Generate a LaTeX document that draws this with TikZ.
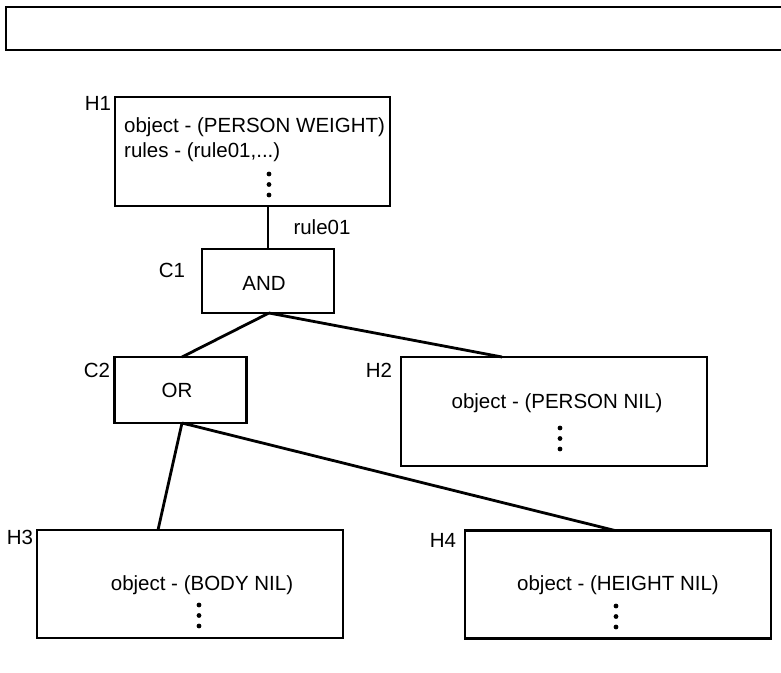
\documentclass[tikz,border=0pt]{standalone}
\usepackage{fontspec}
\setmainfont{Liberation Sans}
\usetikzlibrary{positioning}

\begin{document}
\begin{tikzpicture}[
  x=1pt,y=-1pt,
  every node/.style={font=\fontsize{20.5}{24}\selectfont,inner sep=0pt},
  frame/.style={draw,line width=2.2pt,outer sep=0pt},
  hypo/.style={frame,minimum width=306pt,minimum height=108pt},
  conn/.style={frame,minimum width=132pt,minimum height=64pt},
  wire/.style={line width=2.8pt}
]
  \useasboundingbox (0,0) rectangle (781,672);

  % empty caption frame, open on the right
  \draw[line width=1.8pt] (795,7) -- (6,7) -- (6,50) -- (795,50);

  % hypothesis and connective boxes
  \node[frame,minimum width=275pt,minimum height=109pt] (h1) at (252.5,151.5) {};
  \node[conn] (c1) at (268,281) {};
  \node[conn,minimum height=66pt] (c2) at (180.5,390) {};
  \node[hypo,minimum height=109pt] (h2) at (554,411.5) {};
  \node[hypo] (h3) at (190,584) {};
  \node[hypo] (h4) at (618,584.5) {};

  % box tags
  \node (h1tag) at (98,103) {H1};
  \node (c1tag) at (172,270) {C1};
  \node (c2tag) at (97,370) {C2};
  \node (h2tag) at (379,370) {H2};
  \node (h3tag) at (20,537) {H3};
  \node (h4tag) at (443,540) {H4};

  % box contents
  \node[anchor=west] (h1obj) at (124,127) {object - (PERSON WEIGHT)};
  \node[anchor=west] (h1rules) at (124,152) {rules - (rule01,...)};
  \node (andop) at (264,283) {AND};
  \node (orop) at (177,390) {OR};
  \node (h2obj) at (557,403) {object - (PERSON NIL)};
  \node (h3obj) at (202,585) {object - (BODY NIL)};
  \node (h4obj) at (618,585) {object - (HEIGHT NIL)};
  \foreach \x/\y in {269/174,560/428,199/605,616/606}
    \foreach \k in {0,1,2}
      \fill (\x,\y+\k*10.5) circle (2.4);

  % links
  \draw[line width=2.2pt] (c1.north) -- (c1.north |- h1.south);
  \node (rulelbl) at (322,227) {rule01};
  \draw[wire] ([xshift=1pt]c1.south) -- ([xshift=1.5pt]c2.north);
  \draw[wire] ([xshift=1pt]c1.south) -- ([xshift=-52pt]h2.north);
  \draw[wire] ([xshift=1.5pt]c2.south) -- ([xshift=-32pt]h3.north);
  \draw[wire] ([xshift=1.5pt]c2.south) -- ([xshift=-3pt]h4.north);
\end{tikzpicture}
\end{document}
